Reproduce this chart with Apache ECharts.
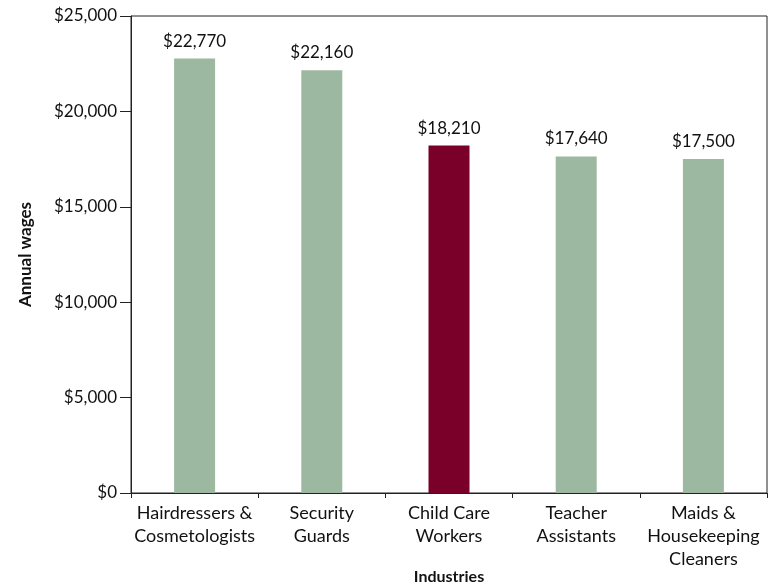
<!DOCTYPE html>
<html>
<head>
<meta charset="utf-8">
<script src="https://cdn.jsdelivr.net/npm/echarts@6/dist/echarts.min.js"></script>
<style>
  html, body { margin: 0; padding: 0; background: #fff; }
  #chart { width: 769px; height: 584px; }
</style>
</head>
<body>
<div id="chart"></div>
<script>
// Annual wages by occupation
const categories = [
  'Hairdressers &\nCosmetologists',
  'Security\nGuards',
  'Child Care\nWorkers',
  'Teacher\nAssistants',
  'Maids &\nHousekeeping\nCleaners'
];
const wages = [22770, 22160, 18210, 17640, 17500];
const highlightIndex = 2;

const GREEN = '#9db8a0';
const MAROON = '#7a0029';
const FONT = 'Lato, "Open Sans", sans-serif';

const chart = echarts.init(document.getElementById('chart'));
chart.setOption({
  animation: false,
  grid: {
    left: 131, right: 2, top: 16, bottom: 91,
    outerBoundsMode: 'none',
    containLabel: false,
    show: true, borderColor: '#222', borderWidth: 1, backgroundColor: 'transparent'
  },
  xAxis: {
    type: 'category',
    data: categories,
    name: 'Industries',
    nameLocation: 'middle',
    nameMoveOverlap: false,
    nameGap: 76,
    nameTextStyle: { fontFamily: FONT, fontWeight: 'bold', fontSize: 16, color: '#111', verticalAlign: 'top' },
    axisLine: { lineStyle: { color: '#222', width: 1 } },
    axisTick: { show: true, alignWithLabel: false, length: 5, lineStyle: { color: '#222' } },
    axisLabel: { fontFamily: FONT, fontSize: 18, color: '#111', lineHeight: 23, margin: 9, interval: 0 }
  },
  yAxis: {
    type: 'value',
    min: 0, max: 25000, interval: 5000,
    name: 'Annual wages',
    nameLocation: 'middle',
    nameMoveOverlap: false,
    nameGap: 97,
    nameTextStyle: { fontFamily: FONT, fontWeight: 'bold', fontSize: 17, color: '#111' },
    splitLine: { show: false },
    axisLine: { show: true, lineStyle: { color: '#222', width: 1 } },
    axisTick: { show: true, length: 11, lineStyle: { color: '#222' } },
    axisLabel: {
      fontFamily: FONT, fontSize: 17, color: '#111', margin: 14,
      formatter: v => '$' + v.toLocaleString('en-US')
    }
  },
  series: [{
    type: 'bar',
    barWidth: 41,
    data: wages.map((v, i) => ({
      value: v,
      itemStyle: { color: i === highlightIndex ? MAROON : GREEN }
    })),
    label: {
      show: true, position: 'top', distance: 9,
      fontFamily: FONT, fontSize: 17, color: '#111',
      formatter: p => '$' + p.value.toLocaleString('en-US')
    }
  }]
});
</script>
</body>
</html>
